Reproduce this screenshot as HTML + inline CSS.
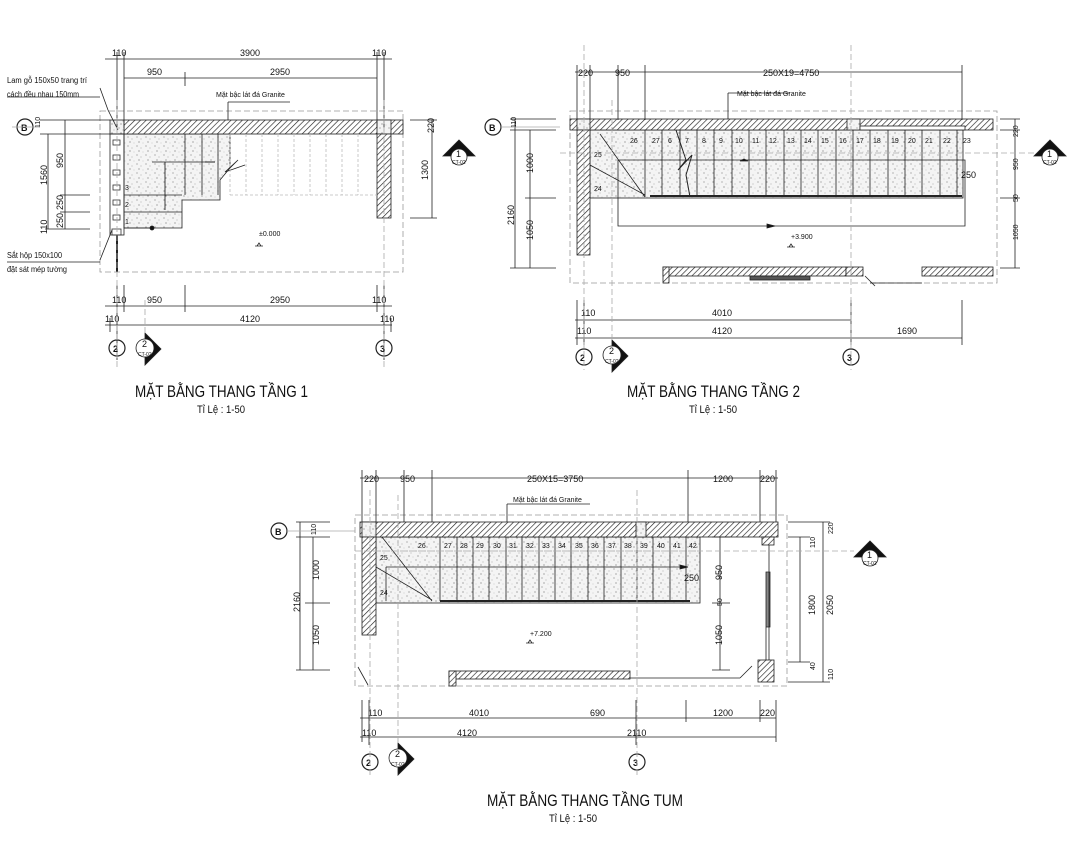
<!DOCTYPE html>
<html><head><meta charset="utf-8"><style>
html,body{margin:0;padding:0;background:#fff}
svg{display:block}
text{font-family:"Liberation Sans Narrow","Liberation Sans",sans-serif;fill:#111}
.d{font-size:9px}
.s{font-size:7px}
.t{font-size:17px}
.tl{font-size:11px}
</style></head><body>
<svg width="1080" height="853" viewBox="0 0 1080 853" xmlns="http://www.w3.org/2000/svg">
<defs>
<pattern id="h" width="4" height="4" patternUnits="userSpaceOnUse" patternTransform="rotate(45)"><rect width="4" height="4" fill="#fff"/><line x1="0" y1="0" x2="0" y2="4" stroke="#222" stroke-width="1.3"/></pattern>
<pattern id="sp" width="9" height="9" patternUnits="userSpaceOnUse"><rect width="9" height="9" fill="#f4f4f4"/><circle cx="2" cy="2" r=".6" fill="#888"/><circle cx="6" cy="4" r=".5" fill="#999"/><circle cx="4" cy="7" r=".6" fill="#777"/><circle cx="8" cy="8" r=".4" fill="#999"/></pattern>
</defs>
<g fill="none" stroke="#222" stroke-width="0.8">

<!-- ============ PLAN 1 ============ -->
<rect x="100" y="111" width="303" height="161" stroke="#999" stroke-dasharray="6,3"/>
<path d="M124 134 H230 V168 L220 180 V200 H182 V228 H124 Z" fill="url(#sp)"/>
<rect x="124" y="120" width="279" height="14" fill="url(#h)"/>
<rect x="110" y="120" width="14" height="14" fill="url(#sp)"/>
<rect x="377" y="120" width="14" height="14" fill="url(#sp)"/>
<rect x="377" y="134" width="14" height="84" fill="url(#h)"/>
<rect x="110" y="134" width="14" height="101"/>
<g stroke="#333">
<rect x="113" y="140" width="7" height="5"/><rect x="113" y="155" width="7" height="5"/><rect x="113" y="170" width="7" height="5"/><rect x="113" y="185" width="7" height="5"/><rect x="113" y="200" width="7" height="5"/><rect x="113" y="215" width="7" height="5"/><rect x="112" y="229" width="9" height="6"/>
</g>
<line x1="117" y1="235" x2="117" y2="272" stroke-width="2"/>
<path d="M124 195 H182 M124 212 H182 M124 228 H152 M185 134 V195 M202 134 V195 M218 134 V195 M152 162 H215 M230 168 L238 160 L225 172 L245 165"/>
<path d="M165 162 V210 M205 162 l10 0" stroke="#111"/>
<circle cx="152" cy="228" r="2" fill="#111"/>
<path d="M230 134 V195 M246 134 V195 M262 134 V195 M278 134 V195 M294 134 V195 M310 134 V195 M326 134 V195 M342 134 V195 M358 134 V195 M230 195 H377" stroke="#bbb" stroke-dasharray="3,2"/>
<text x="259" y="236" class="s" stroke="none">±0.000</text>
<path d="M255 246 h8 M257 246 l2 -3 l2 3"/>
<text x="125" y="190" class="s" stroke="none">3</text><text x="125" y="207" class="s" stroke="none">2</text><text x="125" y="224" class="s" stroke="none">1</text>
<path d="M105 59 H392 M117 52 V128 M124 52 V128 M377 52 V128 M384 52 V128 M124 78 H377 M185 72 V86"/>
<text x="112" y="56" class="d" stroke="none">110</text><text x="240" y="56" class="d" stroke="none">3900</text><text x="372" y="56" class="d" stroke="none">110</text>
<text x="147" y="75" class="d" stroke="none">950</text><text x="270" y="75" class="d" stroke="none">2950</text>
<path d="M228 102 H290 M228 102 V120"/>
<text x="216" y="97" class="s" stroke="none">Mặt bậc lát đá Granite</text>
<path d="M105 306 H392 M105 325 H392 M117 285 V360 M124 285 V312 M185 285 V312 M377 285 V312 M384 285 V360 M110 318 V332 M391 318 V332"/>
<text x="112" y="303" class="d" stroke="none">110</text><text x="147" y="303" class="d" stroke="none">950</text><text x="270" y="303" class="d" stroke="none">2950</text><text x="372" y="303" class="d" stroke="none">110</text>
<text x="105" y="322" class="d" stroke="none">110</text><text x="240" y="322" class="d" stroke="none">4120</text><text x="380" y="322" class="d" stroke="none">110</text>
<path d="M40 120 H110 M40 134 H110 M48 134 V229 M65 120 V229 M60 195 H90 M60 212 H90 M45 229 H90 M437 120 H410 M437 218 H410 M432 120 V218"/>
<text transform="translate(47,185) rotate(-90)" class="d" stroke="none">1560</text>
<text transform="translate(63,168) rotate(-90)" class="d" stroke="none">950</text>
<text transform="translate(63,210) rotate(-90)" class="d" stroke="none">250</text>
<text transform="translate(63,228) rotate(-90)" class="d" stroke="none">250</text>
<text transform="translate(47,234) rotate(-90)" class="d" stroke="none">110</text>
<text transform="translate(40,128) rotate(-90)" class="s" stroke="none">110</text>
<text transform="translate(428,180) rotate(-90)" class="d" stroke="none">1300</text>
<text transform="translate(434,133) rotate(-90)" class="d" stroke="none">220</text>
<path d="M100 88 L108 110 L118 130 M7 97 H100 M100 260 L108 240 L112 230 M7 262 H100"/>
<text x="7" y="83" class="s" stroke="none" style="font-size:8px" textLength="80" lengthAdjust="spacingAndGlyphs">Lam gỗ 150x50 trang trí</text>
<text x="7" y="97" class="s" stroke="none" style="font-size:8px" textLength="72" lengthAdjust="spacingAndGlyphs">cách đều nhau 150mm</text>
<text x="7" y="258" class="s" stroke="none" style="font-size:8px" textLength="55" lengthAdjust="spacingAndGlyphs">Sắt hộp 150x100</text>
<text x="7" y="272" class="s" stroke="none" style="font-size:8px" textLength="60" lengthAdjust="spacingAndGlyphs">đặt sát mép tường</text>
<circle cx="25" cy="127" r="8" stroke-width="1.2"/><text x="21" y="131" class="d" stroke="none" font-weight="bold">B</text>
<path d="M12 127 H40" stroke="#aaa"/>
<circle cx="117" cy="348" r="8" stroke-width="1.2"/><text x="113" y="352" class="d" stroke="none" font-weight="bold">2</text>
<circle cx="384" cy="348" r="8" stroke-width="1.2"/><text x="380" y="352" class="d" stroke="none" font-weight="bold">3</text>
<path d="M145 333 L161 349 L145 365 Z" fill="#111"/><circle cx="145" cy="348" r="9" fill="#fff"/><text x="142" y="347" class="d" stroke="none">2</text><text x="138" y="356" class="s" stroke="none" style="font-size:5px">CT-02</text>
<path d="M443 156 L459 140 L475 156 Z" fill="#111"/><circle cx="459" cy="157" r="8" fill="#fff"/><text x="456" y="157" class="d" stroke="none">1</text><text x="452" y="164" class="s" stroke="none" style="font-size:5px">CT-02</text>
<path d="M117 100 V370 M384 100 V370 M145 300 V333" stroke="#aaa" stroke-dasharray="6,3"/>
<text x="135" y="397" class="t" stroke="none" textLength="173" lengthAdjust="spacingAndGlyphs">MẶT BẰNG THANG TẦNG 1</text>
<text x="197" y="413" class="tl" stroke="none" textLength="48" lengthAdjust="spacingAndGlyphs">Tỉ Lệ : 1-50</text>

<!-- ============ PLAN 2 ============ -->
<rect x="570" y="111" width="427" height="172" stroke="#999" stroke-dasharray="6,3"/>
<rect x="590" y="130" width="373" height="68" fill="url(#sp)"/>
<rect x="570" y="119" width="423" height="11" fill="url(#h)"/>
<rect x="577" y="119" width="13" height="11" fill="url(#sp)"/>
<rect x="847" y="119" width="13" height="11" fill="url(#sp)"/>
<rect x="860" y="126" width="105" height="4" fill="#fff"/>
<rect x="577" y="130" width="13" height="125" fill="url(#h)"/>
<path d="M645 130 V197 M662 130 V197 M680 130 V197 M697 130 V197 M714 130 V197 M732 130 V197 M749 130 V197 M766 130 V197 M784 130 V197 M801 130 V197 M818 130 V197 M836 130 V197 M853 130 V197 M870 130 V197 M888 130 V197 M905 130 V197 M922 130 V197 M940 130 V197 M957 130 V197"/>
<path d="M600 134 L645 197 M590 165 L645 195 M618 160 H965 V226 H618 Z"/>
<line x1="650" y1="196" x2="962" y2="196" stroke-width="2"/>
<path d="M676 130 L686 160 L678 170 L692 155 L686 175 L690 197" stroke-width="1"/>
<path d="M740 161 l8 0 l-4 -2 z M775 226 l-8 -2 v4 z" fill="#111"/>
<g stroke="none">
<text x="630" y="143" class="s">26</text><text x="652" y="143" class="s">27</text><text x="668" y="143" class="s">6</text><text x="685" y="143" class="s">7</text><text x="702" y="143" class="s">8</text><text x="719" y="143" class="s">9</text><text x="735" y="143" class="s">10</text><text x="752" y="143" class="s">11</text><text x="769" y="143" class="s">12</text><text x="787" y="143" class="s">13</text><text x="804" y="143" class="s">14</text><text x="821" y="143" class="s">15</text><text x="839" y="143" class="s">16</text><text x="856" y="143" class="s">17</text><text x="873" y="143" class="s">18</text><text x="891" y="143" class="s">19</text><text x="908" y="143" class="s">20</text><text x="925" y="143" class="s">21</text><text x="943" y="143" class="s">22</text><text x="963" y="143" class="s">23</text>
<text x="594" y="157" class="s">25</text><text x="594" y="191" class="s">24</text>
</g>
<text x="961" y="178" class="d" stroke="none">250</text>
<text x="791" y="239" class="s" stroke="none">+3.900</text>
<path d="M787 247 h8 M789 247 l2 -3 l2 3"/>
<rect x="663" y="267" width="183" height="9" fill="url(#h)"/><rect x="663" y="267" width="6" height="16" fill="url(#h)"/>
<rect x="846" y="267" width="17" height="9" fill="url(#h)"/>
<rect x="922" y="267" width="71" height="9" fill="url(#h)"/>
<rect x="750" y="276" width="60" height="4" fill="#555"/>
<path d="M865 276 l10 10 M870 283 H922" />
<path d="M575 72 H962 M577 65 V120 M590 65 V120 M618 65 V120 M645 65 V120 M962 65 V120 M728 93 H790 M728 93 V119"/>
<text x="578" y="76" class="d" stroke="none">220</text><text x="615" y="76" class="d" stroke="none">950</text><text x="763" y="76" class="d" stroke="none">250X19=4750</text>
<text x="737" y="96" class="s" stroke="none">Mặt bậc lát đá Granite</text>
<path d="M575 320 H851 M575 338 H962 M577 300 V345 M584 300 V345 M851 300 V345 M962 300 V345"/>
<text x="581" y="316" class="d" stroke="none">110</text><text x="712" y="316" class="d" stroke="none">4010</text>
<text x="577" y="334" class="d" stroke="none">110</text><text x="712" y="334" class="d" stroke="none">4120</text><text x="897" y="334" class="d" stroke="none">1690</text>
<path d="M510 119 H556 M510 130 H556 M515 119 V268 M530 130 V268 M525 198 H556 M510 268 H556 M1020 119 H1000 M1020 130 H1000 M1020 198 H1000 M1020 268 H1000 M1015 119 V268"/>
<text transform="translate(514,225) rotate(-90)" class="d" stroke="none">2160</text>
<text transform="translate(533,173) rotate(-90)" class="d" stroke="none">1000</text>
<text transform="translate(533,240) rotate(-90)" class="d" stroke="none">1050</text>
<text transform="translate(516,128) rotate(-90)" class="s" stroke="none">110</text>
<text transform="translate(1018,137) rotate(-90)" class="s" stroke="none">220</text>
<text transform="translate(1018,170) rotate(-90)" class="s" stroke="none">950</text>
<text transform="translate(1018,202) rotate(-90)" class="s" stroke="none">50</text>
<text transform="translate(1018,240) rotate(-90)" class="s" stroke="none">1050</text>
<circle cx="493" cy="127" r="8" stroke-width="1.2"/><text x="489" y="131" class="d" stroke="none" font-weight="bold">B</text>
<path d="M501 127 H560" stroke="#aaa"/>
<circle cx="584" cy="357" r="8" stroke-width="1.2"/><text x="580" y="361" class="d" stroke="none" font-weight="bold">2</text>
<circle cx="851" cy="357" r="8" stroke-width="1.2"/><text x="847" y="361" class="d" stroke="none" font-weight="bold">3</text>
<path d="M612 340 L628 356 L612 372 Z" fill="#111"/><circle cx="612" cy="355" r="9" fill="#fff"/><text x="609" y="354" class="d" stroke="none">2</text><text x="605" y="363" class="s" stroke="none" style="font-size:5px">CT-02</text>
<path d="M1034 156 L1050 140 L1066 156 Z" fill="#111"/><circle cx="1050" cy="157" r="8" fill="#fff"/><text x="1047" y="157" class="d" stroke="none">1</text><text x="1043" y="164" class="s" stroke="none" style="font-size:5px">CT-02</text>
<path d="M584 45 V370 M851 45 V370 M612 100 V340 M560 153 H1034" stroke="#aaa" stroke-dasharray="6,3"/>
<text x="627" y="397" class="t" stroke="none" textLength="173" lengthAdjust="spacingAndGlyphs">MẶT BẰNG THANG TẦNG 2</text>
<text x="689" y="413" class="tl" stroke="none" textLength="48" lengthAdjust="spacingAndGlyphs">Tỉ Lệ : 1-50</text>

<!-- ============ PLAN TUM ============ -->
<rect x="355" y="515" width="432" height="171" stroke="#999" stroke-dasharray="6,3"/>
<rect x="376" y="537" width="324" height="66" fill="url(#sp)"/>
<rect x="360" y="522" width="418" height="15" fill="url(#h)"/>
<rect x="362" y="522" width="14" height="15" fill="url(#sp)"/>
<rect x="636" y="522" width="10" height="15" fill="url(#sp)"/>
<rect x="362" y="537" width="14" height="98" fill="url(#h)"/>
<rect x="762" y="537" width="12" height="8" fill="url(#h)"/>
<rect x="758" y="660" width="16" height="22" fill="url(#h)"/>
<path d="M440 537 V601 M457 537 V601 M473 537 V601 M489 537 V601 M506 537 V601 M522 537 V601 M539 537 V601 M555 537 V601 M571 537 V601 M588 537 V601 M604 537 V601 M621 537 V601 M637 537 V601 M653 537 V601 M670 537 V601 M686 537 V601"/>
<path d="M382 537 L432 601 M376 567 L432 600 M386 567 H688 M386 567 V601"/>
<path d="M688 567 l-8 -2 v4 z" fill="#111"/>
<line x1="440" y1="601" x2="690" y2="601" stroke-width="2"/>
<g stroke="none">
<text x="418" y="548" class="s">26</text><text x="444" y="548" class="s">27</text><text x="460" y="548" class="s">28</text><text x="476" y="548" class="s">29</text><text x="493" y="548" class="s">30</text><text x="509" y="548" class="s">31</text><text x="526" y="548" class="s">32</text><text x="542" y="548" class="s">33</text><text x="558" y="548" class="s">34</text><text x="575" y="548" class="s">35</text><text x="591" y="548" class="s">36</text><text x="608" y="548" class="s">37</text><text x="624" y="548" class="s">38</text><text x="640" y="548" class="s">39</text><text x="657" y="548" class="s">40</text><text x="673" y="548" class="s">41</text><text x="689" y="548" class="s">42</text>
<text x="380" y="560" class="s">25</text><text x="380" y="595" class="s">24</text>
</g>
<text x="684" y="581" class="d" stroke="none">250</text>
<text x="530" y="636" class="s" stroke="none">+7.200</text>
<path d="M526 643 h8 M528 643 l2 -3 l2 3"/>
<rect x="449" y="671" width="181" height="8" fill="url(#h)"/><rect x="449" y="671" width="7" height="15" fill="url(#h)"/>
<path d="M630 678 H740 M740 678 l12 -12 M358 667 l10 18"/>
<path d="M769 545 V660 M766 572 h4 v55 h-4 z M766 610 v50" fill="#888"/>
<path d="M360 478 H778 M362 470 V522 M376 470 V522 M404 470 V522 M432 470 V522 M688 470 V522 M760 470 V522 M776 470 V522 M507 504 H590 M507 504 V522"/>
<text x="364" y="482" class="d" stroke="none">220</text><text x="400" y="482" class="d" stroke="none">950</text><text x="527" y="482" class="d" stroke="none">250X15=3750</text><text x="713" y="482" class="d" stroke="none">1200</text><text x="760" y="482" class="d" stroke="none">220</text>
<text x="513" y="502" class="s" stroke="none">Mặt bậc lát đá Granite</text>
<path d="M360 718 H776 M360 737 H776 M362 700 V742 M369 700 V745 M636 700 V745 M686 700 V722 M760 700 V722 M776 700 V742"/>
<text x="368" y="716" class="d" stroke="none">110</text><text x="469" y="716" class="d" stroke="none">4010</text><text x="590" y="716" class="d" stroke="none">690</text><text x="713" y="716" class="d" stroke="none">1200</text><text x="760" y="716" class="d" stroke="none">220</text>
<text x="362" y="736" class="d" stroke="none">110</text><text x="457" y="736" class="d" stroke="none">4120</text><text x="627" y="736" class="d" stroke="none">2110</text>
<path d="M296 522 H330 M296 537 H330 M300 522 V670 M313 537 V670 M305 603 H330 M296 670 H330 M712 537 H730 M712 603 H730 M712 670 H730 M720 537 V670 M788 537 H810 M788 662 H810 M800 537 V662 M788 522 H830 M788 682 H830 M823 522 V682"/>
<text transform="translate(300,612) rotate(-90)" class="d" stroke="none">2160</text>
<text transform="translate(319,580) rotate(-90)" class="d" stroke="none">1000</text>
<text transform="translate(319,645) rotate(-90)" class="d" stroke="none">1050</text>
<text transform="translate(316,535) rotate(-90)" class="s" stroke="none">110</text>
<text transform="translate(722,580) rotate(-90)" class="d" stroke="none">950</text>
<text transform="translate(722,645) rotate(-90)" class="d" stroke="none">1050</text>
<text transform="translate(722,606) rotate(-90)" class="s" stroke="none">50</text>
<text transform="translate(815,615) rotate(-90)" class="d" stroke="none">1800</text>
<text transform="translate(833,615) rotate(-90)" class="d" stroke="none">2050</text>
<text transform="translate(833,534) rotate(-90)" class="s" stroke="none">220</text>
<text transform="translate(815,548) rotate(-90)" class="s" stroke="none">110</text>
<text transform="translate(815,670) rotate(-90)" class="s" stroke="none">40</text>
<text transform="translate(833,680) rotate(-90)" class="s" stroke="none">110</text>
<circle cx="279" cy="531" r="8" stroke-width="1.2"/><text x="275" y="535" class="d" stroke="none" font-weight="bold">B</text>
<path d="M287 531 H355" stroke="#aaa"/>
<circle cx="370" cy="762" r="8" stroke-width="1.2"/><text x="366" y="766" class="d" stroke="none" font-weight="bold">2</text>
<circle cx="637" cy="762" r="8" stroke-width="1.2"/><text x="633" y="766" class="d" stroke="none" font-weight="bold">3</text>
<path d="M398 743 L414 759 L398 775 Z" fill="#111"/><circle cx="398" cy="758" r="9" fill="#fff"/><text x="395" y="757" class="d" stroke="none">2</text><text x="391" y="766" class="s" stroke="none" style="font-size:5px">CT-02</text>
<path d="M854 557 L870 541 L886 557 Z" fill="#111"/><circle cx="870" cy="558" r="8" fill="#fff"/><text x="867" y="558" class="d" stroke="none">1</text><text x="863" y="565" class="s" stroke="none" style="font-size:5px">CT-02</text>
<path d="M370 490 V775 M637 490 V775 M398 495 V743 M355 551 H854" stroke="#aaa" stroke-dasharray="6,3"/>
<text x="487" y="806" class="t" stroke="none" textLength="196" lengthAdjust="spacingAndGlyphs">MẶT BẰNG THANG TẦNG TUM</text>
<text x="549" y="822" class="tl" stroke="none" textLength="48" lengthAdjust="spacingAndGlyphs">Tỉ Lệ : 1-50</text>
</g>
</svg>
</body></html>
